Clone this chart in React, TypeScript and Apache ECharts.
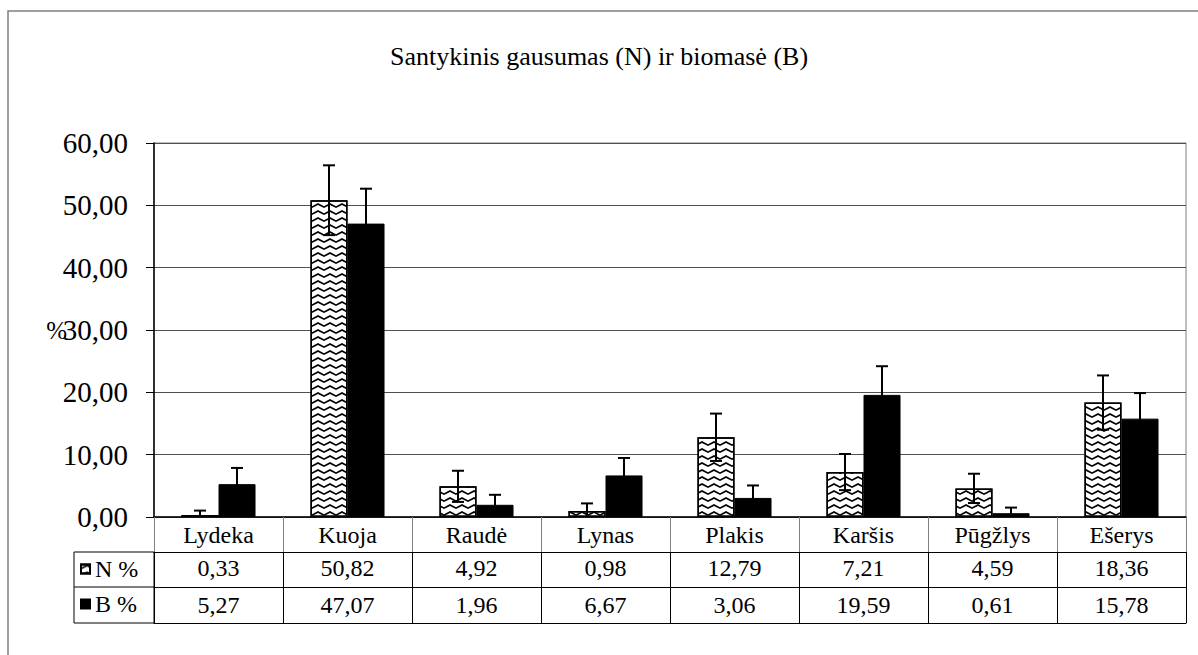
import React, { useEffect, useRef } from 'react';
import * as echarts from 'echarts';

const titleText = 'Santykinis gausumas (N) ir biomasė (B)';
const categories = ['Lydeka', 'Kuoja', 'Raudė', 'Lynas', 'Plakis', 'Karšis', 'Pūgžlys', 'Ešerys'];
const seriesNames = ['N %', 'B %'];
const nValues = [0.33, 50.82, 4.92, 0.98, 12.79, 7.21, 4.59, 18.36];
const bValues = [5.27, 47.07, 1.96, 6.67, 3.06, 19.59, 0.61, 15.78];
const nErrors = [0.7, 5.6, 2.5, 1.2, 3.8, 2.9, 2.35, 4.35];
const bErrors = [2.6, 5.6, 1.6, 2.8, 2.0, 4.6, 0.9, 4.1];
const yMin = 0;
const yMax = 60;
const yInterval = 10;
const yAxisName = '%';

const FONT = 'Liberation Serif';
const BAR_FRAC = 0.287;

const txt = (size: number, extra: any = {}) => ({
  fontFamily: FONT,
  fontSize: size,
  fontWeight: 'normal',
  fontStyle: 'normal',
  color: '#000',
  ...extra,
});

const fmt = (v: number) => v.toFixed(2).replace('.', ',');

function errorSeries(name: string, values: number[], errors: number[], side: number) {
  return {
    name,
    type: 'custom',
    xAxisIndex: 0,
    z: 10,
    silent: true,
    data: values.map((v, i) => [i, v, errors[i]]),
    renderItem: (params: any, api: any) => {
      const xi = api.value(0);
      const v = api.value(1);
      const e = api.value(2);
      const band = api.size([1, 0])[0];
      const bw = band * BAR_FRAC;
      const top = api.coord([xi, v + e]);
      const low = v - e;
      const bot = api.coord([xi, Math.max(0, low)]);
      const x = top[0] + side * bw / 2;
      const half = 6;
      const style = { stroke: '#000', lineWidth: 2 };
      const children: any[] = [
        { type: 'line', shape: { x1: x, y1: top[1], x2: x, y2: bot[1] }, style },
        { type: 'line', shape: { x1: x - half, y1: top[1], x2: x + half, y2: top[1] }, style },
      ];
      if (low > 0) {
        children.push({ type: 'line', shape: { x1: x - half, y1: bot[1], x2: x + half, y2: bot[1] }, style });
      }
      return { type: 'group', children };
    },
  };
}

export default function App() {
  const ref = useRef<HTMLDivElement>(null);
  useEffect(() => {
    if (!ref.current) return;
    const chart = echarts.init(ref.current, undefined, { renderer: 'svg' });
    const option: any = {
      animation: false,
      backgroundColor: '#fff',
      textStyle: txt(24),
      title: {
        text: titleText,
        left: 'center',
        top: 38,
        textStyle: txt(26),
      },
      legend: {
        orient: 'vertical',
        left: 80,
        top: 557,
        padding: 0,
        itemWidth: 9,
        itemHeight: 9,
        itemGap: 11,
        icon: 'rect',
        data: seriesNames,
        textStyle: txt(24, { lineHeight: 24 }),
      },
      grid: {
        left: 154,
        right: 12,
        top: 143,
        bottom: 138,
        show: true,
        borderColor: '#808080',
        borderWidth: 1,
        backgroundColor: 'transparent',
      },
      xAxis: [
        {
          type: 'category',
          data: categories,
          position: 'bottom',
          axisLine: { lineStyle: { color: '#000', width: 1.5 } },
          axisTick: { show: true, length: 35, interval: 0, lineStyle: { color: '#808080' } },
          axisLabel: txt(24, { margin: 6, interval: 0 }),
          splitLine: { show: false },
        },
        {
          type: 'category',
          data: nValues.map(fmt),
          position: 'bottom',
          offset: 35,
          axisLine: { lineStyle: { color: '#000', width: 1 } },
          axisTick: { show: true, length: 35, interval: 0, lineStyle: { color: '#000' } },
          axisLabel: txt(24, { margin: 4, interval: 0 }),
          splitLine: { show: false },
        },
        {
          type: 'category',
          data: bValues.map(fmt),
          position: 'bottom',
          offset: 70,
          axisLine: { lineStyle: { color: '#000', width: 1 } },
          axisTick: { show: true, length: 36, interval: 0, lineStyle: { color: '#000' } },
          axisLabel: txt(24, { margin: 6, interval: 0 }),
          splitLine: { show: false },
        },
        {
          type: 'category',
          data: categories,
          position: 'bottom',
          offset: 106,
          axisLine: { lineStyle: { color: '#000', width: 1 } },
          axisTick: { show: false },
          axisLabel: { show: false },
          splitLine: { show: false },
        },
      ],
      yAxis: {
        type: 'value',
        min: yMin,
        max: yMax,
        interval: yInterval,
        name: yAxisName,
        nameLocation: 'middle',
        nameRotate: 0,
        nameGap: 87,
        nameMoveOverlap: false,
        nameTextStyle: txt(25),
        axisLine: { show: true, lineStyle: { color: '#000', width: 1.5 } },
        axisTick: { show: true, length: 8, lineStyle: { color: '#000' } },
        axisLabel: txt(29, { margin: 26, formatter: (v: number) => fmt(v) }),
        splitLine: { show: true, lineStyle: { color: '#505050', width: 1 } },
      },
      graphic: [
        {
          type: 'rect',
          silent: true,
          z: -10,
          shape: { x: 8, y: 11, width: 1200, height: 660 },
          style: { fill: 'none', stroke: '#808080', lineWidth: 1.5 },
        },
        {
          type: 'rect',
          silent: true,
          shape: { x: 74, y: 552, width: 80, height: 71 },
          style: { fill: 'none', stroke: '#000', lineWidth: 1 },
        },
        {
          type: 'line',
          silent: true,
          shape: { x1: 74, y1: 587, x2: 154, y2: 587 },
          style: { stroke: '#000', lineWidth: 1 },
        },
      ],
      series: [
        {
          name: seriesNames[0],
          type: 'bar',
          xAxisIndex: 0,
          data: nValues,
          barWidth: (BAR_FRAC * 100).toFixed(1) + '%',
          barGap: '0%',
          itemStyle: {
            color: '#fff',
            borderColor: '#000',
            borderWidth: 1.5,
            decal: {
              symbol: 'path://M0,5 L6,0 L12,5 L12,8 L6,3 L0,8 Z',
              symbolSize: 1,
              symbolKeepAspect: false,
              color: '#000',
              backgroundColor: '#fff',
              dashArrayX: [12, 0],
              dashArrayY: [5, 2],
              rotation: 0,
            },
          },
        },
        {
          name: seriesNames[1],
          type: 'bar',
          xAxisIndex: 0,
          data: bValues,
          barWidth: (BAR_FRAC * 100).toFixed(1) + '%',
          barGap: '0%',
          itemStyle: { color: '#000', borderColor: '#000', borderWidth: 1 },
        },
        errorSeries('N err', nValues, nErrors, -1),
        errorSeries('B err', bValues, bErrors, 1),
      ],
    };
    chart.setOption(option);
    return () => chart.dispose();
  }, []);
  return (
    <div
      ref={ref}
      style={{ position: 'absolute', left: 0, top: 0, width: 1198, height: 655 }}
    />
  );
}
